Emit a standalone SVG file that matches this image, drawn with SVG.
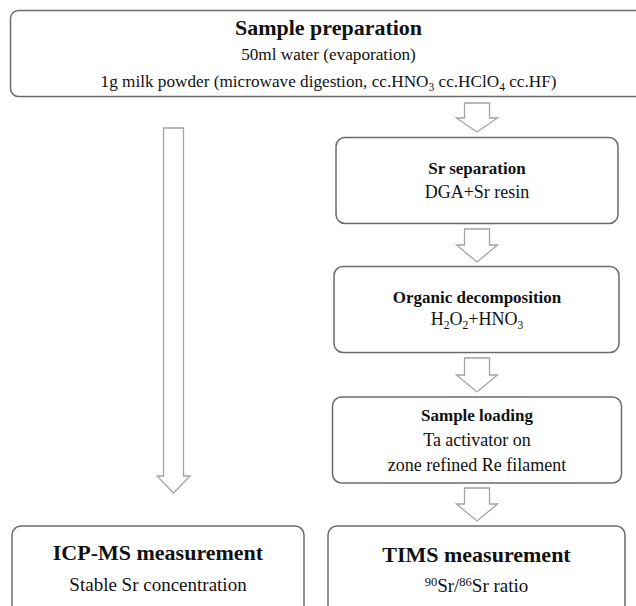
<svg xmlns="http://www.w3.org/2000/svg" width="636" height="606" viewBox="0 0 636 606">
<style>
.box{fill:#fff;stroke:#6b6b6b;stroke-width:1.5}
.arr{fill:#fff;stroke:#a3a3a3;stroke-width:1.3;stroke-linejoin:miter}
text{fill:#111;text-anchor:middle}
.t{font-weight:bold;font-size:17px}
.T{font-weight:bold;font-size:22px}
.b{font-size:18px}
.s{font-size:17.2px}
.B{font-size:19px}
.sub{font-size:11.5px;baseline-shift:-4px}
.sup{font-size:12.5px;baseline-shift:6px}
</style>
<rect width="636" height="606" fill="#fff"/>
<g id="connectors">
<path class="arr" d="M163.5,128 H183.5 V476 H190 L173.5,493 L157,476 H163.5 Z"/>
<path class="arr" d="M464.5,103 H489.5 V118 H497.5 L477,132 L456.5,118 H464.5 Z"/>
<path class="arr" d="M464.5,229 H489.5 V245 H497.5 L477,262 L456.5,245 H464.5 Z"/>
<path class="arr" d="M464.5,358 H489.5 V375 H497.5 L477,392 L456.5,375 H464.5 Z"/>
<path class="arr" d="M464.5,488 H489.5 V504 H497.5 L477,521 L456.5,504 H464.5 Z"/>
</g>
<g font-family="'Liberation Serif', 'Times New Roman', 'DejaVu Serif', serif">
<g id="sample-preparation">
<rect class="box" x="10.5" y="10.5" width="636" height="86" rx="8"/>
<text class="T" x="328.5" y="35">Sample preparation</text>
<text class="s" x="328.5" y="60">50ml water (evaporation)</text>
<text class="s" x="328.5" y="87">1g milk powder (microwave digestion, cc.HNO<tspan class="sub">3</tspan> cc.HClO<tspan class="sub">4</tspan> cc.HF)</text>
</g>
<g id="sr-separation">
<rect class="box" x="336" y="137.5" width="282" height="86" rx="9"/>
<text class="t" x="477" y="174">Sr separation</text>
<text class="b" x="477" y="198">DGA+Sr resin</text>
</g>
<g id="organic-decomposition">
<rect class="box" x="334" y="266.5" width="285" height="86" rx="9"/>
<text class="t" x="477" y="303">Organic decomposition</text>
<text class="b" x="477" y="325">H<tspan class="sub">2</tspan>O<tspan class="sub">2</tspan>+HNO<tspan class="sub">3</tspan></text>
</g>
<g id="sample-loading">
<rect class="box" x="332.5" y="397" width="289" height="86" rx="9"/>
<text class="t" x="477" y="421">Sample loading</text>
<text class="b" x="477" y="446">Ta activator on</text>
<text class="b" x="477" y="471">zone refined Re filament</text>
</g>
<g id="icp-ms">
<rect class="box" x="12" y="526" width="292" height="100" rx="9"/>
<text class="T" x="158" y="560">ICP-MS measurement</text>
<text class="B" x="158" y="591">Stable Sr concentration</text>
</g>
<g id="tims">
<rect class="box" x="328" y="526" width="297" height="100" rx="9"/>
<text class="T" x="476.5" y="562">TIMS measurement</text>
<text class="B" x="476.5" y="592"><tspan class="sup">90</tspan>Sr/<tspan class="sup">86</tspan>Sr ratio</text>
</g>
</g>
</svg>
